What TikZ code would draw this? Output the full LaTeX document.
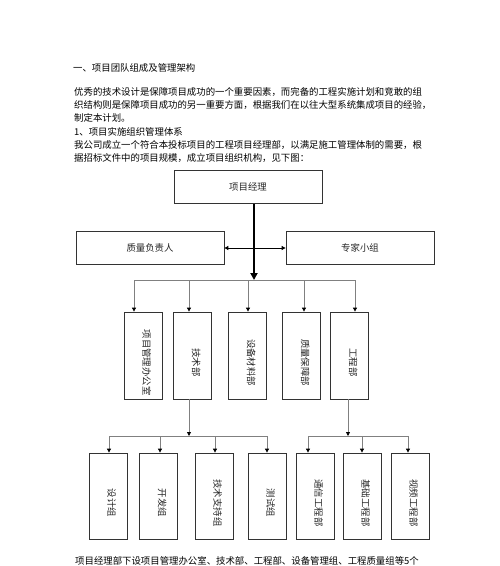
\documentclass[tikz,border=0pt]{standalone}
\usepackage{fontspec}
\usepackage{graphicx}
\usepackage{tikz}
\usetikzlibrary{arrows.meta,calc}
\newfontfamily\cjk{Noto Sans CJK SC}
\newcommand{\vtxt}[1]{\rotatebox{-90}{\hspace{14pt}\rule[-8pt]{0pt}{8pt}#1}}

\begin{document}
\begin{tikzpicture}[x=1pt,y=-1pt,
        txt/.style={anchor=west,inner sep=0pt,font=\cjk\fontsize{9.4}{11}\selectfont},
        wide/.style={draw=black!80,line width=0.8pt,minimum width=148pt,minimum height=33pt,
            inner sep=0pt,font=\cjk\fontsize{9.4}{11}\selectfont,text=black!85},
        dept/.style={draw=black!80,line width=0.8pt,minimum width=38pt,minimum height=87pt,
            inner sep=0pt,font=\cjk\fontsize{9.4}{11}\selectfont,text=black!85},
        gline/.style={draw=black!50,line width=0.8pt},
        garrow/.style={gline,-{Triangle[color=black,length=4pt,width=4pt]}}]
            \useasboundingbox (0,0) rectangle (500,566);

            % text above the chart
            \node[txt] (title) at (73,68) {一、项目团队组成及管理架构};
            \foreach \y/\t [count=\i] in {
                92/{优秀的技术设计是保障项目成功的一个重要因素，而完备的工程实施计划和竞敢的组},
                105/{织结构则是保障项目成功的另一重要方面，根据我们在以往大型系统集成项目的经验，},
                118/{制定本计划。},
                132/{1、项目实施组织管理体系},
                145/{我公司成立一个符合本投标项目的工程项目经理部，以满足施工管理体制的需要，根},
                158/{据招标文件中的项目规模，成立项目组织机构，见下图：}}{
                \node[txt] (line\i) at (74,\y) {\t};
            }
            \node[txt] (tail) at (75,560.5) {项目经理部下设项目管理办公室、技术部、工程部、设备管理组、工程质量组等5个};

            % top of the chart
            \node[wide] (pm) at (248,187) {项目经理};
            \node[wide] (qa) at (150,248) {质量负责人};
            \node[wide] (ex) at (360,248) {专家小组};

            \coordinate (hub) at (254,280);
            \draw[line width=2pt,-{Triangle[length=7pt,width=7pt]}] (pm.south -| hub) -- (hub);
            \draw[line width=0.9pt,{Triangle[length=4pt,width=4pt]}-{Triangle[length=4pt,width=4pt]}] (qa) -- (ex);

            % departments
            \foreach \n/\x/\dx/\t in {p1/143/-9/项目管理办公室,p2/192.5/-3.5/技术部,
                    p3/247.5/0.5/设备材料部,p4/301.5/2.5/质量保障部,p5/349.5/5.5/工程部}{
                \node[dept] (\n) at (\x,355.5) {\vtxt{\t}};
                \coordinate (a\n) at ($(\n.north)+(\dx,0)$);
            }
            \draw[gline] (ap1 |- hub) -- (ap5 |- hub);
            \foreach \n in {p1,p2,p3,p4,p5}
                \draw[garrow] (a\n |- hub) -- (a\n);

            % groups
            \foreach \n/\x/\dx/\t in {c1/108/1/设计组,c2/158.5/1.5/开发组,c3/214/1/技术支持组,
                    c4/267/0/测试组,c5/315/-7/通信工程部,c6/362/0/基础工程部,c7/410/-2/视频工程部}{
                \node[dept,minimum height=86pt] (\n) at (\x,496) {\vtxt{\t}};
                \coordinate (b\n) at ($(\n.north)+(\dx,0)$);
            }

            \coordinate (lbus) at (189,436);
            \coordinate (rbus) at (348,436);
            \draw[garrow] (p2.south -| lbus) -- (lbus);
            \draw[garrow] (p5.south -| rbus) -- (rbus);
            \draw[gline] (bc1 |- lbus) -- (bc4 |- lbus);
            \draw[gline] (bc5 |- rbus) -- (bc7 |- rbus);
            \foreach \n in {c1,c2,c3,c4}
                \draw[garrow] (b\n |- lbus) -- (b\n);
            \foreach \n in {c5,c6,c7}
                \draw[garrow] (b\n |- rbus) -- (b\n);
        \end{tikzpicture}
\end{document}
